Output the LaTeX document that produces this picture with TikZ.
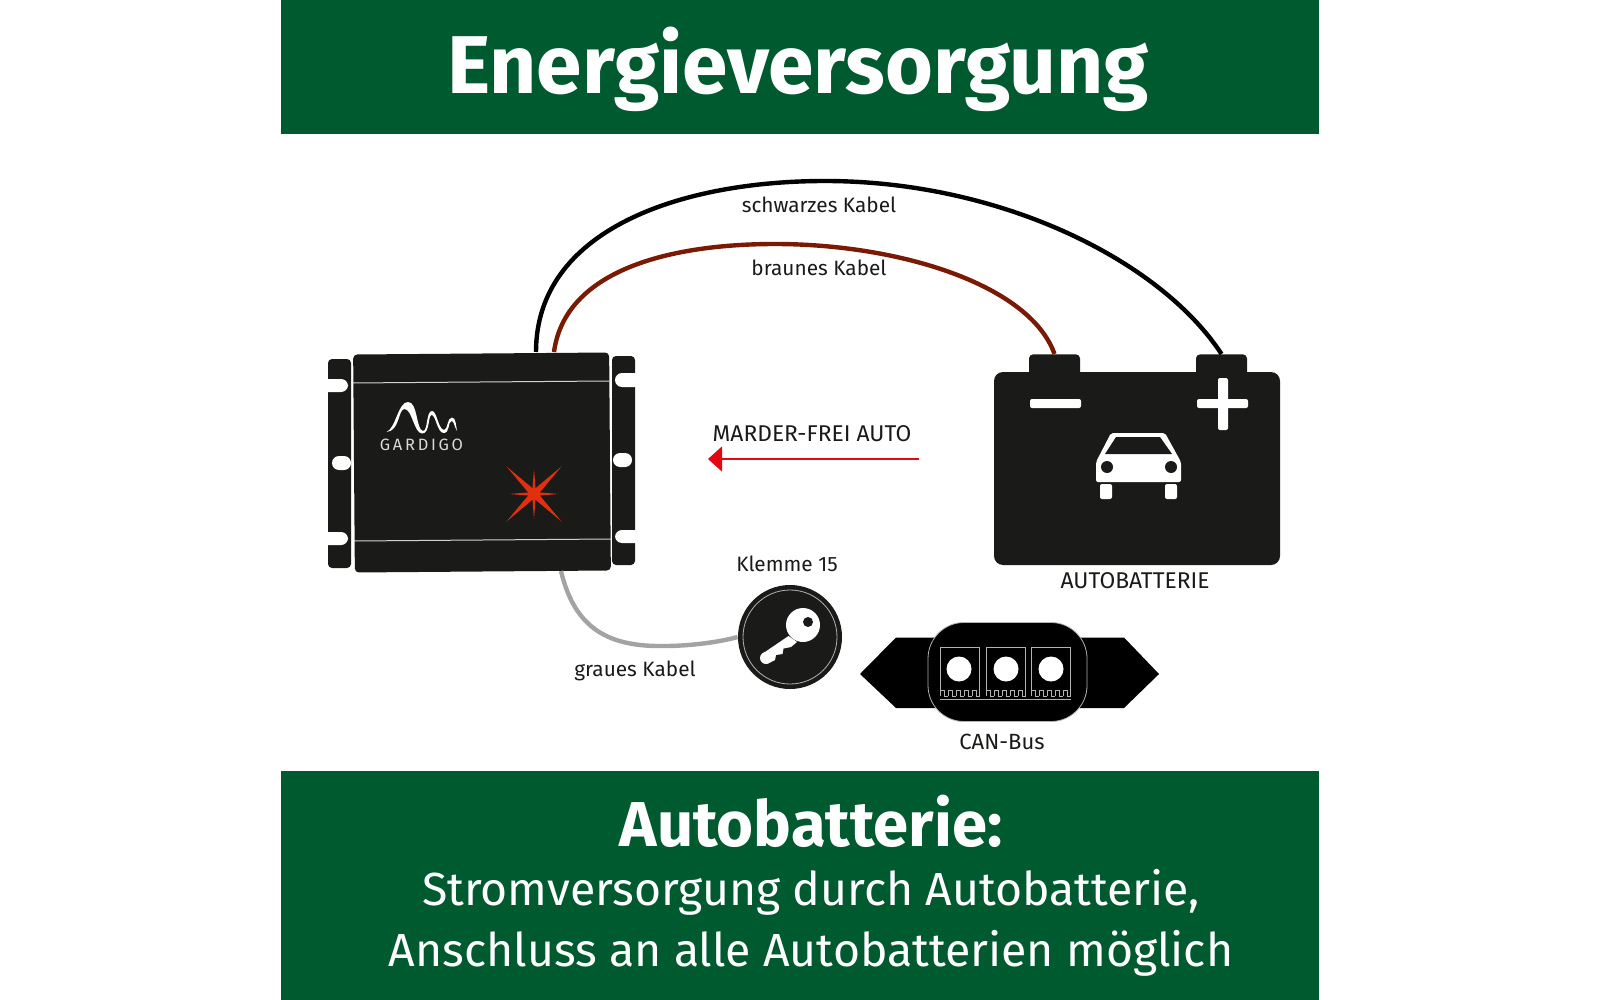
\documentclass[tikz,border=0pt]{standalone}
\usepackage{fontspec}
\setmainfont{Fira Sans}
\usetikzlibrary{arrows.meta}
\definecolor{bandgreen}{HTML}{005A30}
\definecolor{devblack}{HTML}{1A1A18}
\definecolor{wirebrown}{HTML}{7A1A05}
\definecolor{wiregrey}{HTML}{A3A3A3}
\definecolor{starred}{HTML}{E03010}
\definecolor{arrowred}{HTML}{E30613}
\tikzset{
    band/.style={fill=bandgreen, draw=none},
    lbl/.style={inner sep=0pt, text=devblack, font=\fontsize{10.4}{12}\selectfont},
    caps/.style={lbl, font=\fontsize{11.4}{13}\selectfont},
    headline/.style={inner sep=0pt, text=white, font=\bfseries\fontsize{41}{46}\selectfont},
    subhead/.style={inner sep=0pt, text=white, font=\bfseries\fontsize{31.7}{36}\selectfont},
    subline/.style={inner sep=0pt, text=white, font=\fontsize{23.2}{28}\selectfont},
    pole/.style={fill=devblack, rounded corners=2pt, inner sep=0pt, minimum width=25.5pt, minimum height=12pt},
    slot/.style={fill=white, rounded corners=3.5pt, draw=none},
    wire/.style={line width=2.2pt}
}
\begin{document}
\begin{tikzpicture}[x=0.5pt, y=-0.5pt]
    \useasboundingbox (0,0) rectangle (1600,1000);
    % bands
    \fill[band] (281,0) rectangle (1319,134);
    \fill[band] (281,771) rectangle (1319,1000);
    \node[headline] (title) at (798,69) {Energieversorgung};
    \node[subhead] (subtitle) at (811,821) {Autobatterie:};
    \node[subline] (lineone) at (811,892) {Stromversorgung durch Autobatterie,};
    \node[subline] (linetwo) at (811,953) {Anschluss an alle Autobatterien möglich};
    % device
    \fill[devblack, rounded corners=2pt] (328,359) rectangle (351,568);
    \fill[devblack, rounded corners=2pt] (612,356) rectangle (635,565);
    \fill[slot] (320,379) rectangle (348,392);
    \fill[slot] (320,532) rectangle (348,545);
    \fill[slot] (615,373) rectangle (645,387);
    \fill[slot] (615,530) rectangle (645,543);
    \fill[slot] (332,456) rectangle (351,470);
    \fill[slot] (613,453) rectangle (632,467);
    \node[fill=devblack, rounded corners=2pt, inner sep=0pt, minimum width=128pt, minimum height=109pt, rotate=0.45] (device) at (482,462.5) {};
    \draw[white, line width=0.5pt, opacity=0.8] (351,383) -- (609,381);
    \draw[white, line width=0.5pt, opacity=0.8] (354,541) -- (611,539);
    % logo
    \fill[white] (386.5,432) .. controls (396,428) and (398,402) .. (408,402)
        .. controls (418,402) and (416,430) .. (423,431)
        .. controls (428,431) and (426,411) .. (432,411)
        .. controls (437,411) and (438,429) .. (444,430)
        .. controls (448,430) and (447,417.5) .. (452,417.5)
        .. controls (456,417.5) and (456,426) .. (457,431)
        .. controls (454,426) and (454,421) .. (451.5,421)
        .. controls (448,421) and (450,433.5) .. (443.5,433)
        .. controls (437,432.5) and (436,415) .. (431.5,415)
        .. controls (428,415) and (430,434) .. (422,433.5)
        .. controls (414,433) and (412,409) .. (404.5,409)
        .. controls (398,409) and (400,431) .. (386.5,432);
    \node[inner sep=0pt, text=white!85!black, font=\fontsize{8.2}{10}\selectfont] (brand) at (421.5,444.5) {G\,A\,R\,D\,I\,G\,O};
    % star
    \begin{scope}[shift={(534,494)}]
        \foreach \ang/\len/\wid in {0/25/2,45/39/3.5,90/25/2,135/39/3.5,180/25/2,225/39/3.5,270/25/2,315/39/3.5} {
            \fill[starred] (\ang+90:\wid) -- (\ang:\len) -- (\ang-90:\wid) -- cycle;
        }
        \fill[starred] (0,0) circle (6);
    \end{scope}
    % battery
    \node[fill=devblack, rounded corners=4.5pt, inner sep=0pt, minimum width=143pt, minimum height=96.5pt] (battery) at (1137,468.5) {};
    \node[pole, anchor=north] (minuspol) at (1054.5,354) {};
    \node[pole, anchor=north] (pluspol) at (1221.5,354) {};
    \fill[white, rounded corners=1pt] (1030,399) rectangle (1081,408);
    \fill[white, rounded corners=1pt] (1197,399) rectangle (1248,408);
    \fill[white, rounded corners=1pt] (1218,378) rectangle (1228,430);
    % car
    \fill[white, rounded corners=1pt] (1111,433) -- (1165,433) -- (1181,462) -- (1181,482) -- (1096,482) -- (1096,462) -- cycle;
    \fill[devblack] (1116,437) -- (1160,437) -- (1172,454) -- (1105,454) -- cycle;
    \fill[devblack] (1107,467) circle (6) (1171,467) circle (6);
    \fill[white, rounded corners=1pt] (1100,484) rectangle (1112,499);
    \fill[white, rounded corners=1pt] (1165,484) rectangle (1177,499);
    % key
    \node[circle, fill=devblack, inner sep=0pt, minimum size=52pt] (klemme) at (790,637) {};
    \node[circle, draw=white!70!black, line width=0.4pt, inner sep=0pt, minimum size=47pt] (keyring) at (790,637) {};
    \fill[white] (788.5,636) -- (762,654) -- (770,662.5) -- (775,660) -- (776,655) -- (782.5,654) -- (783.5,648.5) -- (791,647) -- (797,642) -- cycle;
    \fill[white] (766,658) circle (6);
    \fill[white] (803,625) circle (17);
    \fill[devblack] (808,622) circle (5);
    % can bus
    \fill[black] (860,674) -- (896,637.5) -- (1124,637.5) -- (1159,674) -- (1124,708) -- (896,708) -- cycle;
    \node[fill=black, draw=white!70!black, line width=0.4pt, rounded corners=18pt, inner sep=0pt, minimum width=79.5pt, minimum height=49.5pt] (canbus) at (1007.5,672) {};
    \foreach \bx/\cx in {940/959,986/1006,1031/1051} {
        \draw[white!70!black, line width=0.3pt] (\bx,696) -- (\bx,647) -- (\bx+39,647) -- (\bx+39,696);
        \fill[white] (\cx,669) circle (12.5);
        \foreach \i in {0,...,4} {
            \draw[white!70!black, line width=0.3pt] (\bx+\i*8,696) -- ++(0,-6) -- ++(4,0) -- ++(0,6) -- ++(4,0);
        }
    }
    \draw[white!70!black, line width=0.3pt] (940,699) -- (1071,699);
    % wires
    \coordinate (blackout) at (536,352);
    \coordinate (brownout) at (554,352);
    \coordinate (greyout) at (561,571);
    \draw[wire, black] (blackout) .. controls (536,230) and (680,181) .. (825,181) .. controls (1000,181) and (1160,260) .. (pluspol.north);
    \draw[wire, wirebrown] (brownout) .. controls (565,270) and (670,244) .. (775,244) .. controls (900,244) and (1030,285) .. (minuspol.north);
    \draw[wire, wiregrey] (greyout) .. controls (575,630) and (610,647) .. (665,646) .. controls (690,646) and (720,642) .. (klemme.west);
    % arrow
    \coordinate (arrowstart) at (919,459);
    \coordinate (arrowend) at (708,459);
    \draw[arrowred, line width=0.55pt, -{Triangle[length=7pt,width=12.5pt]}] (arrowstart) -- (arrowend);
    % labels
    \node[lbl] (blacklbl) at (819,205) {schwarzes Kabel};
    \node[lbl] (brownlbl) at (819,268) {braunes Kabel};
    \node[caps] (freilbl) at (812,434) {MARDER-FREI AUTO};
    \node[lbl] (keylbl) at (787,564) {Klemme 15};
    \node[caps] (batterylbl) at (1135,581) {AUTOBATTERIE};
    \node[lbl] (greylbl) at (635,671) {graues Kabel};
    \node[caps, font=\fontsize{11}{13}\selectfont] (canlbl) at (1002,742) {CAN-Bus};
\end{tikzpicture}
\end{document}
